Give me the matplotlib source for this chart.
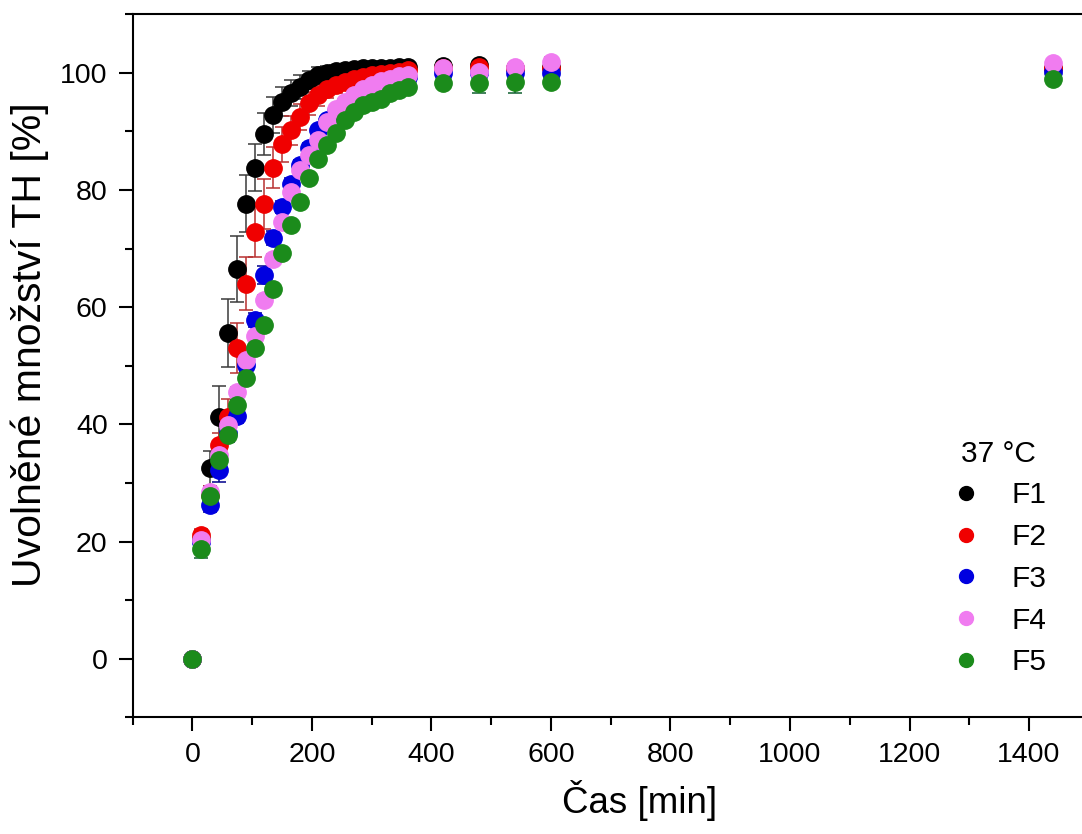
import matplotlib
matplotlib.use("Agg")
import matplotlib.pyplot as plt
from matplotlib.lines import Line2D
from matplotlib.ticker import MultipleLocator

plt.rcParams['font.family'] = ['Liberation Sans', 'DejaVu Sans']

# Sampling times [min]
time_min = [0, 15, 30, 45, 60, 75, 90, 105, 120, 135, 150, 165, 180, 195, 210,
            225, 240, 255, 270, 285, 300, 315, 330, 345, 360, 420, 480, 540, 600, 1440]

# Released amount [%] per formulation
f1 = [0, 20.5, 32.5, 41.3, 55.6, 66.5, 77.7, 83.8, 89.5, 92.8, 95.1, 96.5, 97.6, 98.8, 99.6,
      100.0, 100.3, 100.5, 100.7, 100.8, 100.8, 100.9, 100.9, 101.0, 101.0, 101.2, 101.3, 100.9, 101.0, 100.9]
f2 = [0, 21.2, 28.0, 36.5, 41.3, 53.0, 64.0, 72.9, 77.6, 83.8, 87.8, 90.2, 92.5, 94.8, 96.2,
      97.3, 98.0, 98.5, 99.0, 99.3, 99.6, 99.8, 100.0, 100.2, 100.5, 100.8, 101.0, 100.8, 100.8, 100.8]
f3 = [0, 20.0, 26.3, 32.2, 38.5, 41.4, 50.1, 57.8, 65.5, 71.8, 77.1, 81.0, 84.3, 87.2, 90.2,
      92.0, 93.5, 94.8, 95.8, 96.7, 97.4, 98.0, 98.5, 99.0, 99.3, 100.0, 100.0, 100.0, 99.9, 100.2]
f4 = [0, 20.3, 28.5, 34.8, 39.9, 45.6, 51.0, 55.0, 61.2, 68.3, 74.6, 79.7, 83.4, 86.0, 88.5,
      91.6, 93.9, 95.0, 96.3, 97.3, 98.0, 98.6, 99.0, 99.4, 99.7, 100.8, 100.1, 101.0, 101.9, 101.6]
f5 = [0, 18.7, 27.7, 34.0, 38.2, 43.3, 47.9, 53.0, 57.0, 63.1, 69.3, 74.0, 78.0, 82.0, 85.3,
      87.7, 89.7, 91.9, 93.3, 94.5, 95.1, 95.6, 96.5, 97.0, 97.6, 98.3, 98.3, 98.5, 98.5, 99.0]

# Standard deviations [%]
f1_sd = [0, 1.5, 3.0, 5.3, 5.8, 5.6, 4.8, 4.0, 3.6, 3.0, 2.5, 2.2, 2.0, 1.6, 1.4,
         1.2, 1.0, 1.0, 0.8, 0.8, 0.7, 0.7, 0.6, 0.6, 0.6, 0.8, 0.8, 0.5, 0.6, 0.5]
f2_sd = [0, 1.0, 1.5, 2.0, 3.0, 4.3, 4.5, 4.3, 4.3, 3.5, 3.0, 2.5, 2.2, 2.0, 1.8,
         1.6, 1.5, 1.3, 1.2, 1.0, 1.0, 0.9, 0.8, 0.8, 0.7, 0.8, 0.8, 0.6, 0.6, 0.6]
f3_sd = [0, 0.8, 1.2, 2.0, 1.5, 1.2, 1.0, 1.2, 1.5, 1.2, 1.0, 1.0, 0.8, 0.8, 0.8,
         0.7, 0.7, 0.6, 0.6, 0.6, 0.5, 0.5, 0.5, 0.5, 0.5, 0.5, 0.5, 0.5, 0.5, 0.6]
f4_sd = [0, 0.6, 0.8, 0.8, 0.8, 0.8, 0.8, 0.8, 0.8, 0.7, 0.7, 0.7, 0.7, 0.6, 0.6,
         0.6, 0.6, 0.6, 0.5, 0.5, 0.5, 0.5, 0.5, 0.5, 0.5, 0.6, 0.6, 0.6, 0.8, 0.6]
f5_sd = [0, 1.5, 0.8, 0.8, 0.8, 0.8, 0.8, 0.8, 0.8, 0.8, 0.8, 0.7, 0.7, 0.7, 0.7,
         0.6, 0.6, 0.6, 0.6, 0.6, 0.6, 0.5, 0.5, 0.5, 0.5, 0.6, 1.7, 2.0, 0.5, 0.6]

labels = ['F1', 'F2', 'F3', 'F4', 'F5']
values = [f1, f2, f3, f4, f5]
errors = [f1_sd, f2_sd, f3_sd, f4_sd, f5_sd]
colors = ['#000000', '#F00000', '#0000E0', '#F07CF0', '#1B8B1B']
err_colors = ['#3A3A3A', '#B83030', '#00008B', '#C060C0', '#0F5F2F']

fig = plt.figure(figsize=(10.82, 8.34), dpi=100)
ax = fig.add_axes([0.1226, 0.1399, 0.8837, 0.8430])

for y, e, c, ec in zip(values, errors, colors, err_colors):
    ax.errorbar(time_min, y, yerr=e, fmt='o', ms=12.5, color=c, mec=c,
                ecolor=ec, elinewidth=1.1, capsize=5, capthick=1.1)

ax.set_xlim(-100, 1500)
ax.set_ylim(-10, 110)
ax.xaxis.set_major_locator(MultipleLocator(200))
ax.xaxis.set_minor_locator(MultipleLocator(100))
ax.yaxis.set_major_locator(MultipleLocator(20))
ax.yaxis.set_minor_locator(MultipleLocator(10))

ax.tick_params(which='major', direction='out', length=10, width=1.5, labelsize=20.5, pad=8)
ax.tick_params(which='minor', direction='out', length=5.5, width=1.5)
ax.tick_params(top=False, right=False, which='both')
for s in ax.spines.values():
    s.set_linewidth(1.5)

ax.set_xlabel('Čas [min]', fontsize=26.5)
ax.set_ylabel('Uvolněné množství TH [%]', fontsize=29.5)
ax.xaxis.set_label_coords(0.5305, -0.089)
ax.yaxis.set_label_coords(-0.087, 0.5296)

handles = [Line2D([], [], marker='o', ls='none', ms=10, color=c) for c in colors]
leg = ax.legend(handles, labels, title='37 °C', frameon=False, fontsize=21.5,
                title_fontsize=21.5, loc='center', bbox_to_anchor=(0.9232, 0.331),
                bbox_transform=fig.transFigure, handlelength=1.0, handletextpad=1.0,
                labelspacing=0.46, borderpad=0.2)

fig.savefig('out.png', dpi=100)
